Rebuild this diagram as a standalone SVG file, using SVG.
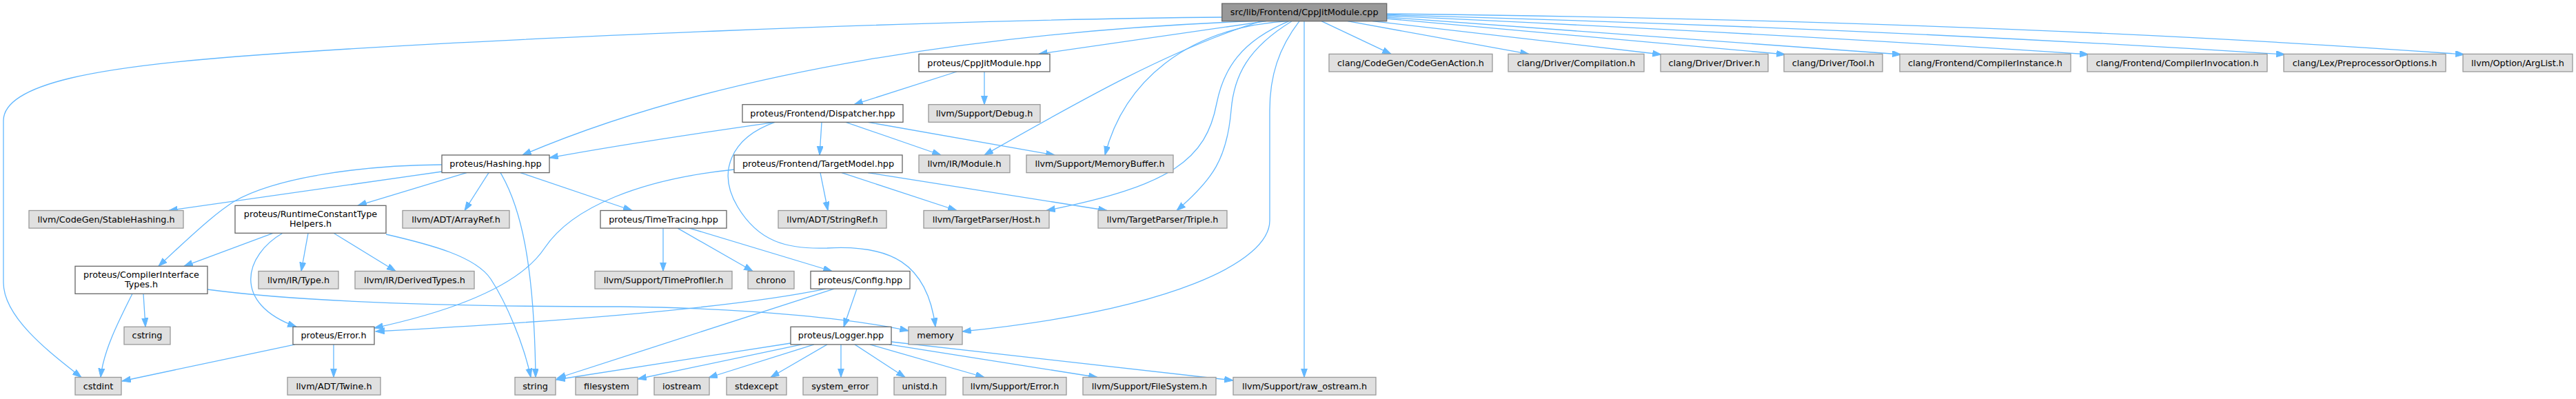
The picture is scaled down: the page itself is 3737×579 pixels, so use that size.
<svg xmlns="http://www.w3.org/2000/svg" width="3737" height="579" viewBox="0 0 3737 579">
<style>
rect{stroke-width:1.3}
.root rect{fill:#999999;stroke:#666666}
.int rect{fill:#ffffff;stroke:#666666}
.ext rect{fill:#e0e0e0;stroke:#999999}
text{font-family:"DejaVu Sans","Liberation Sans",sans-serif;font-size:12.8px;fill:#000;text-anchor:middle}
#edges path{fill:none;stroke:#63b8ff;stroke-width:1.3;marker-end:url(#ah)}
</style>
<defs>
<marker id="ah" markerUnits="userSpaceOnUse" markerWidth="14" markerHeight="10" refX="12.8" refY="4.5" orient="auto">
<path d="M0,0 L12.8,4.5 L0,9 Z" fill="#63b8ff" stroke="#63b8ff" stroke-width="1"/>
</marker>
</defs>
<rect width="3737" height="579" fill="#ffffff"/>
<g id="edges">
<path d="M1772.7,25 C1400,28 700,55 344,82 C150,97 5,120 5,175 L5,410 C5,460 70,510 118,547.5"/>
<path d="M1817,30.7 C1450,45 1050,100 758,225"/>
<path d="M1837,30.7 L1507,78.4"/>
<path d="M1830,30.7 C1700,70 1560,150 1428,225"/>
<path d="M1868,30.7 C1720,40 1630,120 1603,225"/>
<path d="M1870,30.7 C1800,60 1775,100 1765,150 C1750,230 1700,270 1518,305.5"/>
<path d="M1874,30.7 C1810,70 1790,110 1786,160 C1780,230 1760,260 1707,305.5"/>
<path d="M1885,30.7 C1855,70 1842,110 1842,160 L1842,320 C1842,380 1700,450 1396,481"/>
<path d="M1892,30.7 L1892,547.5"/>
<path d="M1917,30.7 L2018,78.4"/>
<path d="M1955,30.7 L2218,78.4"/>
<path d="M1991,30.7 L2410,79"/>
<path d="M2011.7,27 L2590,79"/>
<path d="M2011.7,25 L2758,79"/>
<path d="M2011.7,23 Q2600,50 3030,79"/>
<path d="M2011.7,21.5 Q2700,40 3315,79"/>
<path d="M2011.7,20 Q2900,30 3575,79"/>
<path d="M1388,104 L1239,151.7"/>
<path d="M1428,104 L1428,151.7"/>
<path d="M1124,177.3 C1000,195 900,210 797,229"/>
<path d="M1192,177.3 L1189,225"/>
<path d="M1227,177.3 L1365,225"/>
<path d="M1259,177.3 L1530,225"/>
<path d="M1124,177.3 C1060,200 1040,250 1070,300 C1100,350 1140,362 1200,360 C1290,355 1345,380 1357,474.3"/>
<path d="M1190,250.6 L1201,305.5"/>
<path d="M1221,250.6 L1388,305.5"/>
<path d="M1259,250.6 L1606,305.5"/>
<path d="M1065,246 C930,260 830,300 790,360 C750,420 640,455 543,476"/>
<path d="M641,239 C520,240 400,258 340,292 C320,305 300,320 230,386.3"/>
<path d="M641,249 L245,305.5"/>
<path d="M677,250.6 L519,298.3"/>
<path d="M709,250.6 L674,305.5"/>
<path d="M726,250.6 C755,300 775,380 777,547.5"/>
<path d="M755,250.6 L917,305.5"/>
<path d="M396,338.3 L267,386.3"/>
<path d="M410,338.3 C355,370 335,440 430,474.3"/>
<path d="M447,338.3 L437,393.5"/>
<path d="M484,338.3 L574,393.5"/>
<path d="M560,340 C625,355 690,372 712,405 C735,440 760,500 770,547.5"/>
<path d="M208,426.3 L211,474.3"/>
<path d="M192,426.3 C170,470 150,510 146,547.5"/>
<path d="M301,420 C450,440 700,445 900,445 C1100,447 1250,465 1318,480"/>
<path d="M428,499.9 L177,553"/>
<path d="M484,499.9 L484,547.5"/>
<path d="M962,331.1 L962,393.5"/>
<path d="M983,331.1 L1092,393.5"/>
<path d="M1000,331.1 L1207,393.5"/>
<path d="M1243,419.1 L1224,474.3"/>
<path d="M1198,419.1 C1050,450 750,470 545,481"/>
<path d="M1210,419.1 L808,549"/>
<path d="M1147,498 L807,551"/>
<path d="M1163,499.9 L925,550"/>
<path d="M1181,499.9 L1028,548"/>
<path d="M1200,499.9 L1118,547.5"/>
<path d="M1220,499.9 L1220,547.5"/>
<path d="M1240,499.9 L1313,547.5"/>
<path d="M1262,499.9 L1428,547.5"/>
<path d="M1290,499.9 L1592,547.5"/>
<path d="M1293,496 L1789,552"/>
</g>
<g id="n_root" class="root"><rect x="1772.7" y="5.1" width="239" height="25.6"/><text x="1892.2" y="22.2">src/lib/Frontend/CppJitModule.cpp</text></g>
<g id="n_cppjitmodule_hpp" class="int"><rect x="1333" y="78.4" width="190" height="25.6"/><text x="1428" y="95.5">proteus/CppJitModule.hpp</text></g>
<g id="n_codegenaction" class="ext"><rect x="1928" y="78.4" width="237" height="25.6"/><text x="2046.5" y="95.5">clang/CodeGen/CodeGenAction.h</text></g>
<g id="n_compilation" class="ext"><rect x="2188" y="78.4" width="197" height="25.6"/><text x="2286.5" y="95.5">clang/Driver/Compilation.h</text></g>
<g id="n_driver" class="ext"><rect x="2409" y="78.4" width="156" height="25.6"/><text x="2487" y="95.5">clang/Driver/Driver.h</text></g>
<g id="n_tool" class="ext"><rect x="2588" y="78.4" width="143" height="25.6"/><text x="2659.5" y="95.5">clang/Driver/Tool.h</text></g>
<g id="n_compilerinstance" class="ext"><rect x="2756" y="78.4" width="248" height="25.6"/><text x="2880" y="95.5">clang/Frontend/CompilerInstance.h</text></g>
<g id="n_compilerinvocation" class="ext"><rect x="3028" y="78.4" width="261" height="25.6"/><text x="3158.5" y="95.5">clang/Frontend/CompilerInvocation.h</text></g>
<g id="n_preprocessoroptions" class="ext"><rect x="3313" y="78.4" width="235" height="25.6"/><text x="3430.5" y="95.5">clang/Lex/PreprocessorOptions.h</text></g>
<g id="n_arglist" class="ext"><rect x="3573" y="78.4" width="159" height="25.6"/><text x="3652.5" y="95.5">llvm/Option/ArgList.h</text></g>
<g id="n_dispatcher" class="int"><rect x="1077" y="151.7" width="233" height="25.6"/><text x="1193.5" y="168.8">proteus/Frontend/Dispatcher.hpp</text></g>
<g id="n_debug" class="ext"><rect x="1347" y="151.7" width="162" height="25.6"/><text x="1428" y="168.8">llvm/Support/Debug.h</text></g>
<g id="n_hashing" class="int"><rect x="641" y="225" width="156" height="25.6"/><text x="719" y="242.1">proteus/Hashing.hpp</text></g>
<g id="n_targetmodel" class="int"><rect x="1065" y="225" width="244" height="25.6"/><text x="1187" y="242.1">proteus/Frontend/TargetModel.hpp</text></g>
<g id="n_module" class="ext"><rect x="1333" y="225" width="132" height="25.6"/><text x="1399" y="242.1">llvm/IR/Module.h</text></g>
<g id="n_memorybuffer" class="ext"><rect x="1489" y="225" width="213" height="25.6"/><text x="1595.5" y="242.1">llvm/Support/MemoryBuffer.h</text></g>
<g id="n_stablehashing" class="ext"><rect x="42" y="305.5" width="224" height="25.6"/><text x="154" y="322.6">llvm/CodeGen/StableHashing.h</text></g>
<g id="n_rcth" class="int"><rect x="341" y="298.3" width="219" height="40"/><text x="450.5" y="314.9">proteus/RuntimeConstantType</text><text x="450.5" y="328.6">Helpers.h</text></g>
<g id="n_arrayref" class="ext"><rect x="584" y="305.5" width="155" height="25.6"/><text x="661.5" y="322.6">llvm/ADT/ArrayRef.h</text></g>
<g id="n_timetracing" class="int"><rect x="871" y="305.5" width="183" height="25.6"/><text x="962.5" y="322.6">proteus/TimeTracing.hpp</text></g>
<g id="n_stringref" class="ext"><rect x="1129" y="305.5" width="157" height="25.6"/><text x="1207.5" y="322.6">llvm/ADT/StringRef.h</text></g>
<g id="n_host" class="ext"><rect x="1340" y="305.5" width="182" height="25.6"/><text x="1431" y="322.6">llvm/TargetParser/Host.h</text></g>
<g id="n_triple" class="ext"><rect x="1593" y="305.5" width="187" height="25.6"/><text x="1686.5" y="322.6">llvm/TargetParser/Triple.h</text></g>
<g id="n_cit" class="int"><rect x="109" y="386.3" width="192" height="40"/><text x="205" y="402.9">proteus/CompilerInterface</text><text x="205" y="416.6">Types.h</text></g>
<g id="n_type" class="ext"><rect x="375" y="393.5" width="116" height="25.6"/><text x="433" y="410.6">llvm/IR/Type.h</text></g>
<g id="n_derivedtypes" class="ext"><rect x="515" y="393.5" width="173" height="25.6"/><text x="601.5" y="410.6">llvm/IR/DerivedTypes.h</text></g>
<g id="n_timeprofiler" class="ext"><rect x="863" y="393.5" width="199" height="25.6"/><text x="962.5" y="410.6">llvm/Support/TimeProfiler.h</text></g>
<g id="n_chrono" class="ext"><rect x="1085" y="393.5" width="67" height="25.6"/><text x="1118.5" y="410.6">chrono</text></g>
<g id="n_config" class="int"><rect x="1176" y="393.5" width="144" height="25.6"/><text x="1248" y="410.6">proteus/Config.hpp</text></g>
<g id="n_cstring" class="ext"><rect x="180" y="474.3" width="67" height="25.6"/><text x="213.5" y="491.4">cstring</text></g>
<g id="n_error" class="int"><rect x="425" y="474.3" width="118" height="25.6"/><text x="484" y="491.4">proteus/Error.h</text></g>
<g id="n_logger" class="int"><rect x="1147" y="474.3" width="146" height="25.6"/><text x="1220" y="491.4">proteus/Logger.hpp</text></g>
<g id="n_memory" class="ext"><rect x="1318" y="474.3" width="78" height="25.6"/><text x="1357" y="491.4">memory</text></g>
<g id="n_cstdint" class="ext"><rect x="109" y="547.5" width="67" height="25.6"/><text x="142.5" y="564.6">cstdint</text></g>
<g id="n_twine" class="ext"><rect x="417" y="547.5" width="135" height="25.6"/><text x="484.5" y="564.6">llvm/ADT/Twine.h</text></g>
<g id="n_string" class="ext"><rect x="747" y="547.5" width="59" height="25.6"/><text x="776.5" y="564.6">string</text></g>
<g id="n_filesystem" class="ext"><rect x="835" y="547.5" width="90" height="25.6"/><text x="880" y="564.6">filesystem</text></g>
<g id="n_iostream" class="ext"><rect x="949" y="547.5" width="80" height="25.6"/><text x="989" y="564.6">iostream</text></g>
<g id="n_stdexcept" class="ext"><rect x="1054" y="547.5" width="87" height="25.6"/><text x="1097.5" y="564.6">stdexcept</text></g>
<g id="n_system_error" class="ext"><rect x="1165" y="547.5" width="108" height="25.6"/><text x="1219" y="564.6">system_error</text></g>
<g id="n_unistd" class="ext"><rect x="1297" y="547.5" width="75" height="25.6"/><text x="1334.5" y="564.6">unistd.h</text></g>
<g id="n_support_error" class="ext"><rect x="1397" y="547.5" width="150" height="25.6"/><text x="1472" y="564.6">llvm/Support/Error.h</text></g>
<g id="n_filesystem_h" class="ext"><rect x="1571" y="547.5" width="193" height="25.6"/><text x="1667.5" y="564.6">llvm/Support/FileSystem.h</text></g>
<g id="n_raw_ostream" class="ext"><rect x="1789" y="547.5" width="207" height="25.6"/><text x="1892.5" y="564.6">llvm/Support/raw_ostream.h</text></g>
</svg>
